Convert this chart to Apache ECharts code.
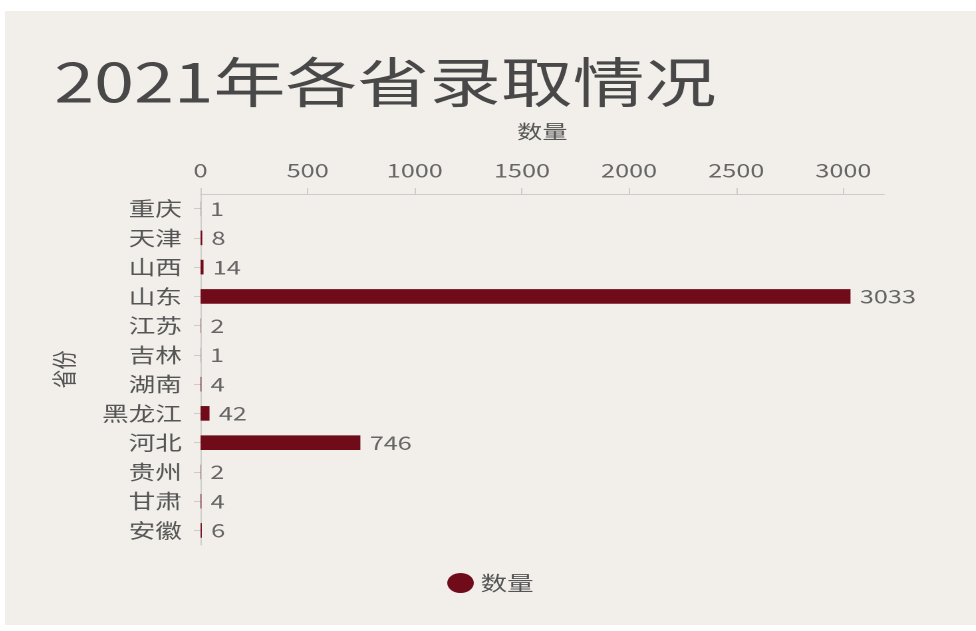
<!DOCTYPE html>
<html><head><meta charset="utf-8">
<script src="https://cdn.jsdelivr.net/npm/echarts@6/dist/echarts.min.js"></script>
<style>
html,body{margin:0;padding:0;background:#fff;width:976px;height:631px;overflow:hidden}
#wrap{position:absolute;left:5px;top:11px;width:971px;height:614px;background:#f2efeb;overflow:hidden}
#c{position:absolute;left:0;top:0;width:730px;height:614px;transform:scaleX(1.33);transform-origin:0 0}
</style></head><body>
<div id="wrap"><div id="c"></div></div>
<script>
const provinces = ['重庆','天津','山西','山东','江苏','吉林','湖南','黑龙江','河北','贵州','甘肃','安徽'];
const counts = [1, 8, 14, 3033, 2, 1, 4, 42, 746, 2, 4, 6];
const seriesName = '数量';
const titleText = '2021年各省录取情况';
const xTicks = [0, 500, 1000, 1500, 2000, 2500, 3000];

const chart = echarts.init(document.getElementById('c'), null, {devicePixelRatio: 2});
const font = '"Noto Sans CJK SC", "Noto Sans", sans-serif';
chart.setOption({
  backgroundColor: '#f2efeb',
  textStyle: {fontFamily: font},
  title: {
    text: titleText, left: 32, top: 39,
    textStyle: {fontSize: 54, fontWeight: 'normal', color: '#484848', fontFamily: font}
  },
  legend: {
    data: [seriesName], top: 557, left: 'center', icon: 'circle',
    itemWidth: 20, itemHeight: 20, itemGap: 8,
    textStyle: {fontSize: 20, color: '#555', fontFamily: font}
  },
  grid: {left: 147, top: 183, right: 69, bottom: 80},
  xAxis: {
    type: 'value', position: 'top', min: 0, max: 3190, interval: 500,
    name: '数量', nameLocation: 'middle', nameGap: 53,
    nameTextStyle: {fontSize: 19, color: '#555'},
    axisLine: {show: true, lineStyle: {color: '#ccc'}},
    axisTick: {show: true, length: 6, lineStyle: {color: '#ccc'}},
    axisLabel: {fontSize: 19, color: '#666', showMaxLabel: false, margin: 14,
      formatter: v => xTicks.includes(v) ? String(v) : ''},
    splitLine: {show: false}
  },
  yAxis: {
    type: 'category', inverse: true, data: provinces,
    name: '省份', nameLocation: 'middle', nameGap: 93,
    nameTextStyle: {fontSize: 19, color: '#555'},
    axisLine: {show: true, lineStyle: {color: '#ccc'}},
    axisTick: {show: true, alignWithLabel: true, length: 5, lineStyle: {color: '#ccc'}},
    axisLabel: {fontSize: 20, color: '#555', margin: 14}
  },
  series: [{
    name: seriesName, type: 'bar', data: counts, barWidth: '50%',
    itemStyle: {color: '#700b19'},
    label: {show: true, position: 'right', fontSize: 19, color: '#666', distance: 7}
  }]
});
</script></body></html>
